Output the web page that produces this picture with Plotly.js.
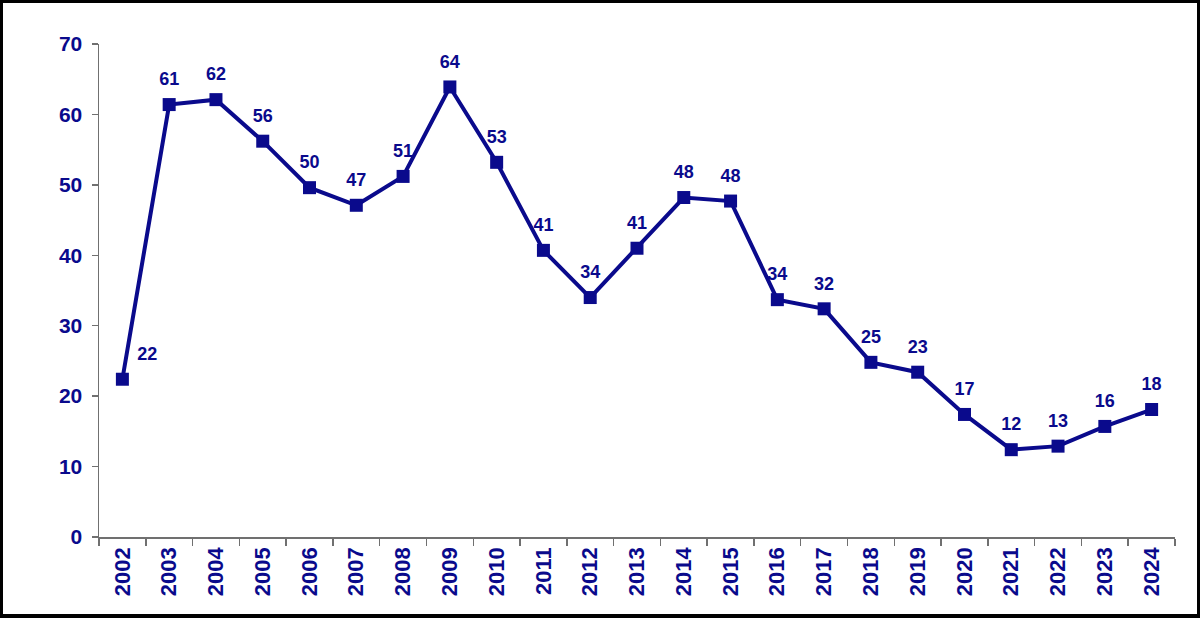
<!DOCTYPE html>
<html>
<head>
<meta charset="utf-8">
<script src="https://cdn.plot.ly/plotly-3.0.1.min.js"></script>
<style>
  html, body { margin: 0; padding: 0; background: #fff; }
  #wrap { position: relative; width: 1200px; height: 618px; }
  #chart { width: 1200px; height: 618px; }
  #frame { position: absolute; left: 0; top: 0; width: 1200px; height: 618px;
           box-sizing: border-box; border: 3px solid #000; border-bottom-width: 4px; pointer-events: none; }
</style>
</head>
<body>
<div id="wrap">
  <div id="chart"></div>
  <div id="frame"></div>
</div>
<script>
const years = ['2002','2003','2004','2005','2006','2007','2008','2009','2010','2011','2012','2013',
               '2014','2015','2016','2017','2018','2019','2020','2021','2022','2023','2024'];
const values = [22.4, 61.4, 62.1, 56.2, 49.6, 47.1, 51.2, 63.9, 53.2, 40.7, 34.0, 41.0,
                48.2, 47.7, 33.7, 32.4, 24.8, 23.4, 17.4, 12.4, 12.9, 15.7, 18.1];
const labels = ['22','61','62','56','50','47','51','64','53','41','34','41',
                '48','48','34','32','25','23','17','12','13','16','18'];
const yTicks = [0, 10, 20, 30, 40, 50, 60, 70];

const navy = '#0a0a8c';
const fontFam = 'Liberation Sans, Arial, sans-serif';
const textPos = years.map((y, i) => i === 0 ? 'top right' : 'top center');

const lineTrace = {
  type: 'scatter',
  mode: 'lines+markers',
  x: years,
  y: values,
  line: { color: navy, width: 4 },
  marker: { symbol: 'square', size: 13, color: navy },
  cliponaxis: false,
  hoverinfo: 'x+y'
};

const labelTrace = {
  type: 'scatter',
  mode: 'markers+text',
  x: years,
  y: values,
  text: labels,
  textposition: textPos,
  textfont: { family: fontFam, size: 18, color: navy, weight: 'bold' },
  marker: { size: 22, opacity: 0, color: navy },
  cliponaxis: false,
  hoverinfo: 'skip'
};

const layout = {
  width: 1200, height: 618,
  margin: { l: 99, r: 25, t: 44, b: 81 },
  paper_bgcolor: '#fff', plot_bgcolor: '#fff',
  showlegend: false,
  font: { family: fontFam, color: navy },
  xaxis: {
    type: 'category',
    range: [-0.5, 22.5],
    showgrid: false, zeroline: false,
    showline: true, linecolor: '#707070', linewidth: 1.5,
    ticks: 'outside', ticklen: 7, tickcolor: '#707070', tickwidth: 1.5,
    tickson: 'boundaries',
    tickangle: -90,
    tickfont: { family: fontFam, size: 22, color: navy, weight: 'bold' },
    fixedrange: true
  },
  yaxis: {
    range: [0, 70],
    tickvals: yTicks,
    ticktext: yTicks.map(String),
    showgrid: false, zeroline: false,
    showline: true, linecolor: '#707070', linewidth: 1.5,
    ticks: 'outside', ticklen: 6, tickcolor: '#707070', tickwidth: 1.5,
    tickfont: { family: fontFam, size: 21, color: navy, weight: 'bold' },
    ticklabelstandoff: 5,
    fixedrange: true
  }
};

Plotly.newPlot('chart', [lineTrace, labelTrace], layout, { displayModeBar: false, staticPlot: true });
</script>
</body>
</html>
